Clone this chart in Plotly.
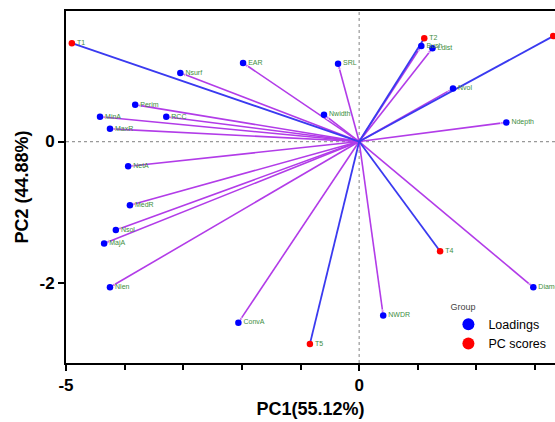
import plotly.graph_objects as go

# Loadings (variables)
load_names = ["Nsurf", "EAR", "SRL", "Nwidth", "Perim", "MinA", "RCC", "MaxR",
              "NetA", "MedR", "Nsol", "MajA", "Nlen", "ConvA", "NWDR", "Diameter",
              "Ndepth", "Nvol", "Bush", "Ldist"]
load_x = [-3.05, -1.98, -0.36, -0.60, -3.82, -4.42, -3.29, -4.25,
          -3.94, -3.91, -4.15, -4.35, -4.25, -2.06, 0.41, 2.97,
          2.51, 1.60, 1.06, 1.25]
load_y = [0.97, 1.11, 1.10, 0.38, 0.52, 0.35, 0.35, 0.18,
          -0.35, -0.90, -1.25, -1.44, -2.06, -2.56, -2.46, -2.06,
          0.27, 0.75, 1.35, 1.32]

# PC scores (treatments)
score_names = ["T1", "T2", "T3", "T4", "T5"]
score_x = [-4.90, 1.11, 3.31, 1.38, -0.84]
score_y = [1.39, 1.46, 1.49, -1.55, -2.86]

x_ticks = [-5, 0]
y_ticks = [0, -2]
x_minor = [-4, -3, -2, -1, 1, 2, 3]

PURPLE = "#B23CE8"
LBLUE = "#3A3AF0"
BLUE = "#0000FF"
RED = "#FF0000"
GREEN = "#3E8E3E"

fig = go.Figure()

# purple vectors to loadings, with arrowheads
lx, ly, sym, sz = [], [], [], []
for x, y in zip(load_x, load_y):
    lx += [0, x, None]
    ly += [0, y, None]
    sym += ["circle", "arrow", "circle"]
    sz += [0, 6, 0]
fig.add_trace(go.Scatter(x=lx, y=ly, mode="lines+markers", showlegend=False,
                         line=dict(color=PURPLE, width=1.6),
                         marker=dict(symbol=sym, size=sz, color=PURPLE, angleref="previous"),
                         hoverinfo="skip"))

# blue vectors to scores
sx, sy = [], []
for x, y in zip(score_x, score_y):
    sx += [0, x, None]
    sy += [0, y, None]
fig.add_trace(go.Scatter(x=sx, y=sy, mode="lines", showlegend=False,
                         line=dict(color=LBLUE, width=1.8), hoverinfo="skip"))

fig.add_trace(go.Scatter(x=load_x, y=load_y, mode="markers+text", name="Loadings",
                         text=load_names, textposition="middle right",
                         textfont=dict(size=7, color=GREEN, family="Liberation Sans"),
                         marker=dict(color=BLUE, size=6.5)))
fig.add_trace(go.Scatter(x=score_x, y=score_y, mode="markers+text", name="PC scores",
                         text=score_names, textposition="middle right",
                         textfont=dict(size=7, color=GREEN, family="Liberation Sans"),
                         marker=dict(color=RED, size=6.5)))

# dotted reference lines
fig.add_shape(type="line", xref="paper", yref="y", x0=0, x1=1, y0=0, y1=0,
              line=dict(color="#999999", width=1.2, dash="dot"), layer="below")
fig.add_shape(type="line", xref="x", yref="paper", x0=0, x1=0, y0=0, y1=1,
              line=dict(color="#999999", width=1.2, dash="dot"), layer="below")

fig.update_xaxes(range=[-5, 3.34], tickvals=x_ticks, ticktext=[str(v) for v in x_ticks],
                 ticks="outside", ticklen=6, tickwidth=2, tickcolor="black",
                 minor=dict(tickvals=x_minor, ticks="outside", ticklen=5, tickwidth=2, tickcolor="black"),
                 showline=True, linecolor="black", linewidth=2, mirror=True,
                 showgrid=False, zeroline=False,
                 tickfont=dict(size=17, color="black", family="Liberation Sans", weight="bold"),
                 title=dict(text="<b>PC1(55.12%)</b>", font=dict(size=18, color="black", family="Liberation Sans"),
                            standoff=8))
fig.update_yaxes(range=[-3.13, 1.845], tickvals=y_ticks, ticktext=[str(v) for v in y_ticks],
                 ticks="outside", ticklen=6, tickwidth=2, tickcolor="black",
                 showline=True, linecolor="black", linewidth=2, mirror=True,
                 showgrid=False, zeroline=False,
                 tickfont=dict(size=17, color="black", family="Liberation Sans", weight="bold"),
                 title=dict(text="<b>PC2 (44.88%)</b>", font=dict(size=18, color="black", family="Liberation Sans"),
                            standoff=6))

fig.update_layout(width=555, height=422, margin=dict(l=66, r=0, t=11, b=59, autoexpand=False),
                  plot_bgcolor="white", paper_bgcolor="white",
                  legend=dict(x=0.782, y=0.185, xanchor="left", yanchor="top",
                              bgcolor="rgba(0,0,0,0)",
                              title=dict(text="Group", font=dict(size=9, color="#444444", family="Liberation Sans")),
                              font=dict(size=12.5, color="black", family="Liberation Sans"),
                              itemsizing="constant", tracegroupgap=0))
fig.write_html("out.html")
